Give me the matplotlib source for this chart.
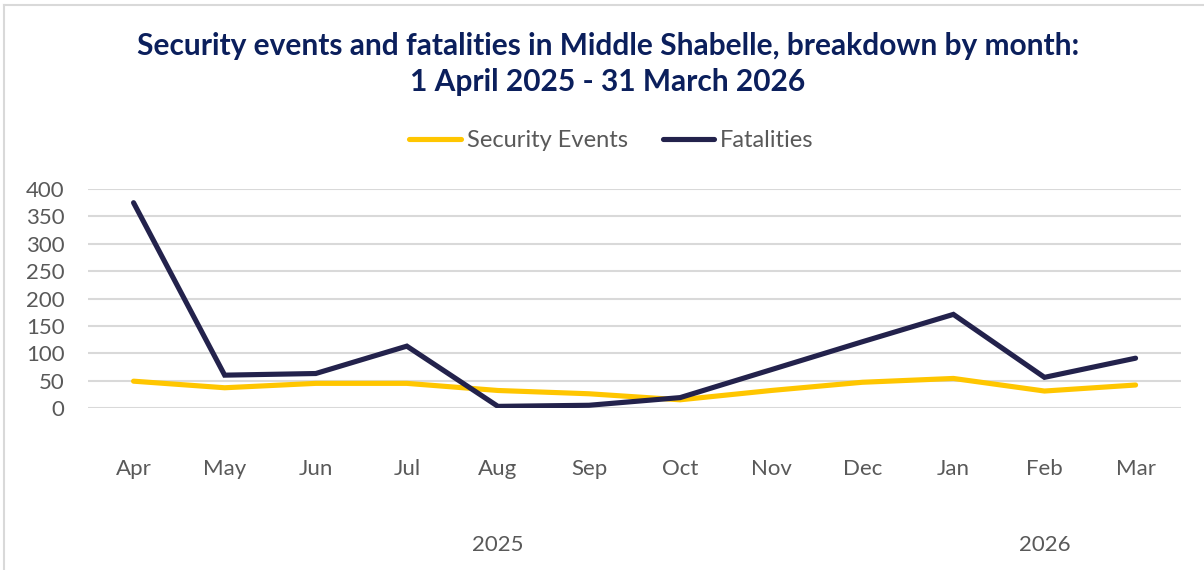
"""Line chart of security events and fatalities in Middle Shabelle by month."""

import matplotlib
matplotlib.use("Agg")
import matplotlib.pyplot as plt
from matplotlib.lines import Line2D
from matplotlib.transforms import blended_transform_factory

plt.rcParams["font.family"] = ["Lato", "DejaVu Sans"]

# Data
months = ["Apr", "May", "Jun", "Jul", "Aug", "Sep", "Oct", "Nov", "Dec", "Jan", "Feb", "Mar"]
month_years = [2025] * 9 + [2026] * 3
security_events = [49, 37, 45, 45, 32, 26, 15, 32, 47, 54, 31, 42]
fatalities = [375, 60, 63, 113, 3, 5, 19, 70, 121, 171, 56, 91]

YELLOW = "#FFC600"
NAVY = "#23224C"
GREY_TEXT = "#595959"
GRID = "#D9D9D9"

fig = plt.figure(figsize=(12.04, 5.70), dpi=100)
ax = fig.add_axes([0.0731, 0.2842, 0.9079, 0.3842])

x = list(range(len(months)))
ax.plot(x, security_events, color=YELLOW, lw=3.7, label="Security Events",
        solid_capstyle="round", solid_joinstyle="miter")
ax.plot(x, fatalities, color=NAVY, lw=3.7, label="Fatalities",
        solid_capstyle="round", solid_joinstyle="miter")

ax.set_xlim(-0.5, len(months) - 0.5)
ax.set_ylim(0, 400)
ax.set_yticks(range(0, 401, 50))
ax.grid(axis="y", color=GRID, lw=1.5)
ax.set_axisbelow(True)
for s in ax.spines.values():
    s.set_visible(False)

ax.set_xticks(x)
ax.set_xticklabels(months)
ax.tick_params(axis="x", length=0, pad=37, labelsize=16, labelcolor=GREY_TEXT)
ax.tick_params(axis="y", length=0, pad=17, labelsize=16, labelcolor=GREY_TEXT)

# Year labels under the month groups
trans = blended_transform_factory(ax.transData, ax.transAxes)
for yr in sorted(set(month_years)):
    idx = [i for i, y in enumerate(month_years) if y == yr]
    ax.text((idx[0] + idx[-1]) / 2, -0.626, str(yr), transform=trans,
            ha="center", va="center", fontsize=16, color=GREY_TEXT)

fig.text(0.505, 0.888,
         "Security events and fatalities in Middle Shabelle, breakdown by month:\n"
         "1 April 2025 - 31 March 2026",
         ha="center", va="center", fontsize=21.5, fontweight="bold",
         color="#0B1F5C", linespacing=1.32)

leg = fig.legend(loc="center", bbox_to_anchor=(0.508, 0.753), ncol=2, frameon=False,
                 fontsize=17, handlelength=2.2, handletextpad=0.25, columnspacing=1.45)
for t in leg.get_texts():
    t.set_color(GREY_TEXT)

# Partial frame (left and top edges visible in the crop)
fig.add_artist(Line2D([0.003, 0.003], [0, 0.991], color=GRID, lw=1.5))
fig.add_artist(Line2D([0.003, 1], [0.991, 0.991], color=GRID, lw=1.5))

fig.savefig("out.png", dpi=100)
